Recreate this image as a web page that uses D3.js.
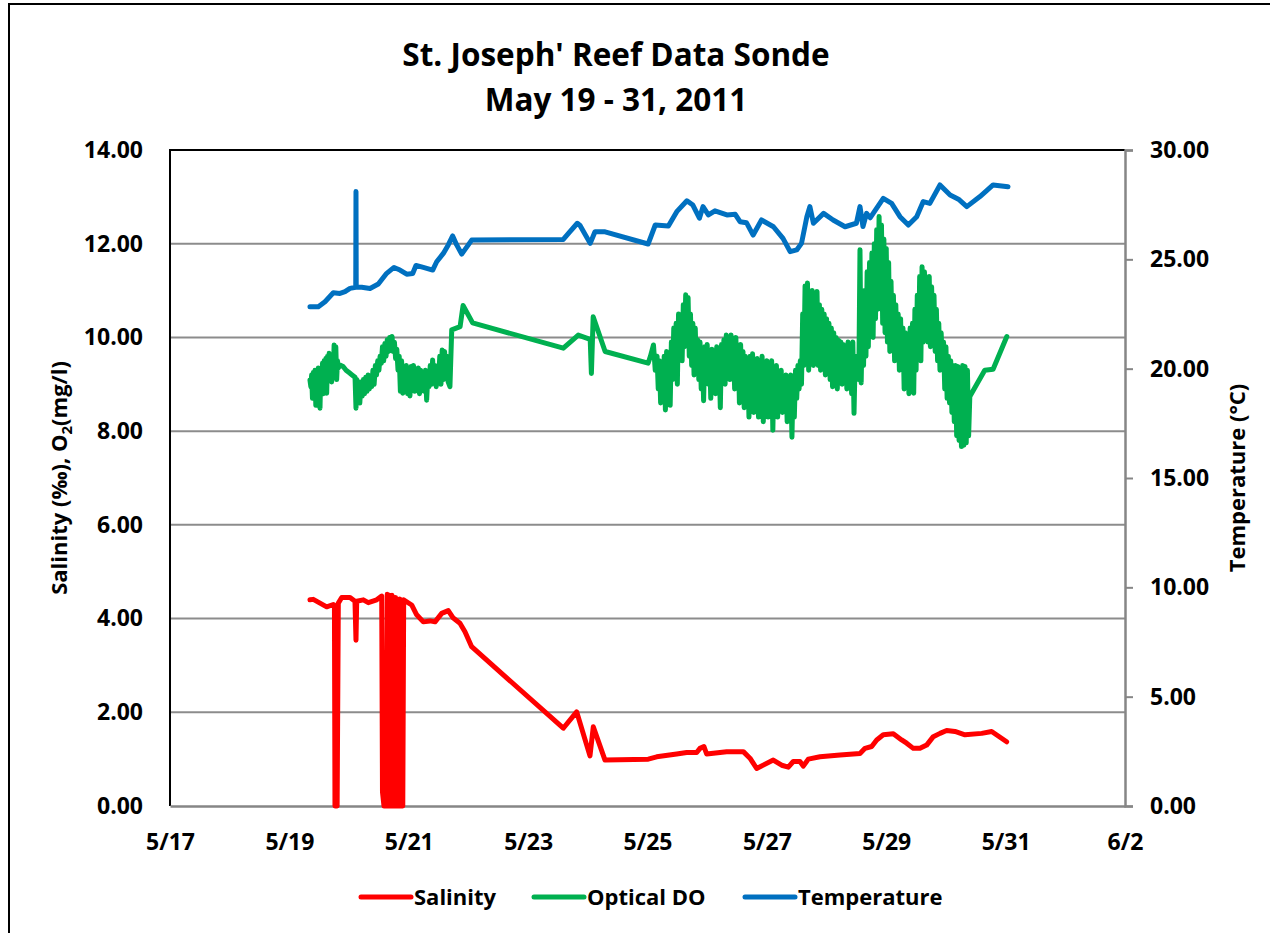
<!DOCTYPE html>
<html>
<head>
<meta charset="utf-8">
<script src="https://cdn.jsdelivr.net/npm/d3@7"></script>
<style>
  body { margin: 0; background: #fff; }
  text { font-family: "Open Sans", sans-serif; font-weight: bold; fill: #000; }
</style>
</head>
<body>
<script>
// ---- data (day of May 2011, value) ----
const salinity = [
  [19.345, 4.40], [19.401, 4.41], [19.513, 4.33], [19.625, 4.25], [19.736, 4.30], [19.755, 4.28],
  [19.764, 0], [19.80, 0], [19.82, 4.33], [19.877, 4.45], [20.016, 4.45], [20.099, 4.37],
  [20.116, 3.54], [20.128, 4.37], [20.239, 4.40], [20.322, 4.34], [20.463, 4.40], [20.547, 4.48],
  [20.56, 0.3], [20.585, 0], [20.62, 0], [20.64, 4.52], [20.66, 0], [20.68, 4.50], [20.70, 0],
  [20.72, 4.50], [20.74, 0], [20.76, 0], [20.78, 4.45], [20.80, 0], [20.83, 0], [20.85, 4.42],
  [20.87, 0], [20.90, 0], [20.915, 4.40], [20.94, 4.38], [21.049, 4.29], [21.133, 4.08],
  [21.244, 3.93], [21.356, 3.95], [21.440, 3.93], [21.552, 4.11], [21.662, 4.17], [21.746, 4.01],
  [21.858, 3.90], [21.942, 3.72], [22.054, 3.40], [23.589, 1.66], [23.813, 2.01], [24.036, 1.07],
  [24.092, 1.69], [24.288, 0.98], [25.013, 1.00], [25.154, 1.05], [25.489, 1.11], [25.656, 1.14],
  [25.824, 1.14], [25.879, 1.23], [25.946, 1.27], [25.991, 1.11], [26.326, 1.16], [26.605, 1.16],
  [26.717, 1.02], [26.829, 0.80], [27.107, 0.98], [27.248, 0.87], [27.359, 0.83], [27.442, 0.95],
  [27.554, 0.95], [27.610, 0.85], [27.694, 1.00], [27.890, 1.05], [28.225, 1.09], [28.560, 1.12],
  [28.644, 1.23], [28.756, 1.27], [28.840, 1.41], [28.950, 1.52], [29.118, 1.54], [29.258, 1.41],
  [29.342, 1.34], [29.453, 1.23], [29.565, 1.23], [29.677, 1.30], [29.788, 1.48], [29.900, 1.55],
  [30.012, 1.61], [30.151, 1.59], [30.319, 1.52], [30.599, 1.55], [30.766, 1.59], [31.017, 1.37]
];

const opticalDO = [
  [19.345, 9.09], [19.36, 8.95], [19.373, 9.20], [19.387, 8.70], [19.401, 9.25], [19.415, 8.85],
  [19.429, 9.30], [19.443, 8.55], [19.457, 9.25], [19.471, 9.00], [19.485, 9.35], [19.50, 8.90],
  [19.513, 8.49], [19.527, 9.30], [19.541, 9.00], [19.555, 9.45], [19.569, 8.80], [19.583, 9.50],
  [19.597, 9.10], [19.611, 9.55], [19.625, 8.81], [19.64, 9.60], [19.652, 9.20], [19.666, 9.66],
  [19.68, 9.30], [19.694, 9.50], [19.708, 9.05], [19.722, 9.60], [19.736, 9.30], [19.75, 9.84],
  [19.764, 9.35], [19.778, 9.80], [19.792, 9.10], [19.806, 9.50], [19.82, 9.35], [19.848, 9.41],
  [19.90, 9.38], [19.95, 9.30], [20.00, 9.25], [20.05, 9.20], [20.10, 9.15], [20.116, 8.49],
  [20.13, 9.10], [20.16, 9.00], [20.18, 8.60], [20.20, 9.05], [20.22, 8.75], [20.24, 9.10],
  [20.26, 8.80], [20.28, 9.15], [20.30, 8.85], [20.32, 9.20], [20.34, 8.90], [20.36, 9.10],
  [20.38, 8.95], [20.40, 9.30], [20.42, 9.00], [20.44, 9.40], [20.46, 9.20], [20.48, 9.50],
  [20.50, 9.30], [20.52, 9.60], [20.54, 9.45], [20.56, 9.80], [20.58, 9.50], [20.60, 9.87],
  [20.62, 9.60], [20.64, 9.95], [20.66, 9.70], [20.68, 10.00], [20.70, 9.75], [20.72, 10.02],
  [20.74, 9.70], [20.76, 9.90], [20.78, 9.55], [20.80, 9.75], [20.82, 9.30], [20.84, 9.60],
  [20.86, 8.85], [20.88, 9.50], [20.90, 8.81], [20.92, 9.35], [20.94, 9.00], [20.96, 9.40],
  [20.98, 8.80], [21.00, 9.30], [21.02, 8.75], [21.04, 9.38], [21.06, 8.90], [21.08, 9.40],
  [21.10, 8.85], [21.12, 9.30], [21.14, 8.95], [21.16, 9.35], [21.18, 8.80], [21.20, 9.30],
  [21.22, 8.90], [21.24, 9.25], [21.26, 8.85], [21.28, 9.30], [21.30, 8.66], [21.32, 9.20],
  [21.34, 8.95], [21.36, 9.40], [21.38, 9.00], [21.40, 9.52], [21.42, 9.05], [21.44, 9.40],
  [21.46, 8.95], [21.48, 9.30], [21.50, 9.10], [21.52, 9.60], [21.54, 9.00], [21.56, 9.73],
  [21.58, 9.10], [21.60, 9.70], [21.62, 9.20], [21.64, 9.60], [21.66, 9.05], [21.69, 8.95],
  [21.72, 10.16], [21.86, 10.23], [21.91, 10.68], [22.07, 10.31], [23.59, 9.77], [23.84, 10.05],
  [24.04, 9.96], [24.06, 9.23], [24.09, 10.44], [24.29, 9.70], [25.01, 9.45], [25.05, 9.60],
  [25.10, 9.84], [25.13, 9.30], [25.16, 9.60], [25.18, 8.90], [25.20, 9.50], [25.22, 8.60],
  [25.24, 9.40], [25.26, 8.80], [25.28, 9.60], [25.30, 8.45], [25.32, 9.70], [25.34, 8.90],
  [25.36, 9.50], [25.38, 8.55], [25.40, 9.90], [25.42, 9.10], [25.44, 10.20], [25.46, 9.30],
  [25.48, 10.30], [25.50, 9.00], [25.52, 10.50], [25.54, 9.70], [25.56, 10.40], [25.58, 9.50],
  [25.60, 10.70], [25.62, 9.80], [25.64, 10.91], [25.66, 9.90], [25.68, 10.85], [25.70, 9.60],
  [25.72, 10.50], [25.74, 9.40], [25.76, 10.30], [25.78, 9.20], [25.80, 10.20], [25.82, 9.30],
  [25.84, 9.95], [25.86, 9.10], [25.88, 9.90], [25.90, 8.90], [25.92, 9.70], [25.94, 8.65],
  [25.96, 9.80], [25.98, 9.20], [26.00, 9.85], [26.02, 9.00], [26.04, 9.70], [26.06, 8.70],
  [26.08, 9.75], [26.10, 9.10], [26.12, 9.60], [26.14, 8.80], [26.16, 9.80], [26.18, 9.00],
  [26.20, 9.50], [26.22, 8.50], [26.24, 9.85], [26.26, 9.20], [26.28, 9.95], [26.30, 9.00],
  [26.32, 10.05], [26.34, 9.30], [26.36, 9.95], [26.38, 9.10], [26.40, 10.05], [26.42, 9.20],
  [26.44, 9.90], [26.46, 8.90], [26.48, 10.00], [26.50, 9.15], [26.52, 9.80], [26.54, 8.60],
  [26.56, 9.85], [26.58, 8.90], [26.60, 9.70], [26.62, 8.50], [26.64, 9.60], [26.66, 8.80],
  [26.68, 9.40], [26.70, 8.30], [26.72, 9.60], [26.74, 8.70], [26.76, 9.65], [26.78, 8.40],
  [26.80, 9.50], [26.82, 8.60], [26.84, 9.55], [26.86, 8.30], [26.88, 9.40], [26.90, 8.50],
  [26.92, 9.60], [26.94, 8.20], [26.96, 9.30], [26.98, 8.60], [27.00, 9.50], [27.02, 8.30],
  [27.04, 9.40], [27.06, 8.60], [27.08, 9.50], [27.10, 8.02], [27.12, 9.30], [27.14, 8.50],
  [27.16, 9.40], [27.18, 8.30], [27.20, 9.20], [27.22, 8.60], [27.24, 9.30], [27.26, 8.40],
  [27.28, 9.10], [27.30, 8.60], [27.32, 9.20], [27.34, 8.20], [27.36, 9.00], [27.38, 8.50],
  [27.40, 9.20], [27.42, 7.87], [27.44, 9.10], [27.46, 8.30], [27.48, 9.30], [27.50, 8.70],
  [27.52, 9.40], [27.54, 8.90], [27.56, 9.50], [27.58, 9.00], [27.60, 10.50], [27.62, 9.40],
  [27.64, 11.10], [27.66, 9.50], [27.68, 11.16], [27.70, 9.30], [27.72, 10.90], [27.74, 9.50],
  [27.76, 11.00], [27.78, 9.40], [27.80, 10.90], [27.82, 9.60], [27.84, 10.98], [27.86, 9.40],
  [27.88, 10.70], [27.90, 9.30], [27.92, 10.60], [27.94, 9.50], [27.96, 10.50], [27.98, 9.20],
  [28.00, 10.40], [28.02, 9.40], [28.04, 10.30], [28.06, 9.10], [28.08, 10.20], [28.10, 8.95],
  [28.12, 10.10], [28.14, 9.20], [28.16, 10.00], [28.18, 8.90], [28.20, 9.94], [28.22, 9.30],
  [28.24, 9.90], [28.26, 9.00], [28.28, 9.85], [28.30, 9.20], [28.32, 9.80], [28.34, 8.90],
  [28.36, 9.90], [28.38, 9.10], [28.40, 9.80], [28.42, 8.80], [28.44, 9.90], [28.46, 8.38],
  [28.48, 9.60], [28.50, 9.30], [28.52, 9.50], [28.54, 9.10], [28.56, 11.87], [28.58, 9.03],
  [28.60, 10.50], [28.62, 9.40], [28.64, 11.00], [28.66, 9.60], [28.68, 11.40], [28.70, 9.80],
  [28.72, 11.60], [28.74, 10.20], [28.76, 11.80], [28.78, 10.00], [28.80, 12.00], [28.82, 10.40],
  [28.84, 12.30], [28.86, 10.60], [28.88, 12.58], [28.90, 11.00], [28.92, 12.40], [28.94, 10.30],
  [28.96, 12.10], [28.98, 10.10], [29.00, 11.90], [29.02, 9.90], [29.04, 11.60], [29.06, 9.70],
  [29.08, 11.20], [29.10, 9.80], [29.12, 10.90], [29.14, 9.50], [29.16, 10.70], [29.18, 9.60],
  [29.20, 10.50], [29.22, 9.30], [29.24, 10.40], [29.26, 9.40], [29.28, 10.20], [29.30, 8.90],
  [29.32, 10.10], [29.34, 9.10], [29.36, 10.00], [29.38, 8.80], [29.40, 10.20], [29.42, 9.20],
  [29.44, 10.30], [29.46, 8.81], [29.48, 10.60], [29.50, 9.30], [29.52, 10.90], [29.54, 9.60],
  [29.56, 11.30], [29.58, 9.50], [29.60, 11.51], [29.62, 9.90], [29.64, 11.40], [29.66, 10.00],
  [29.68, 11.10], [29.70, 9.90], [29.72, 11.30], [29.74, 9.80], [29.76, 11.08], [29.78, 10.00],
  [29.80, 10.90], [29.82, 9.70], [29.84, 10.60], [29.86, 9.50], [29.88, 10.30], [29.90, 9.30],
  [29.92, 10.10], [29.94, 9.40], [29.96, 9.90], [29.98, 8.90], [30.00, 9.80], [30.02, 8.70],
  [30.04, 9.60], [30.06, 8.60], [30.08, 9.50], [30.10, 8.40], [30.12, 9.40], [30.14, 8.20],
  [30.16, 9.40], [30.18, 7.90], [30.20, 9.38], [30.22, 7.80], [30.24, 9.30], [30.26, 7.67],
  [30.28, 9.40], [30.30, 7.70], [30.32, 9.38], [30.34, 7.75], [30.36, 9.30], [30.38, 7.90],
  [30.40, 8.74], [30.65, 9.30], [30.79, 9.32], [31.02, 10.02]
];

const temperature = [
  [19.345, 22.83], [19.485, 22.83], [19.597, 23.06], [19.736, 23.47], [19.848, 23.44], [19.932, 23.52],
  [20.016, 23.67], [20.112, 23.72], [20.116, 28.10], [20.12, 23.72], [20.212, 23.72], [20.351, 23.67],
  [20.490, 23.87], [20.630, 24.36], [20.753, 24.63], [20.853, 24.51], [20.966, 24.32], [21.066, 24.35],
  [21.121, 24.72], [21.244, 24.63], [21.401, 24.51], [21.468, 24.89], [21.579, 25.27], [21.662, 25.66],
  [21.736, 26.07], [21.803, 25.66], [21.887, 25.24], [22.054, 25.88], [23.589, 25.91], [23.701, 26.27],
  [23.824, 26.65], [23.87, 26.55], [24.04, 25.73], [24.12, 26.26], [24.29, 26.26], [25.01, 25.70],
  [25.13, 26.57], [25.35, 26.52], [25.49, 27.18], [25.66, 27.68], [25.76, 27.48], [25.87, 26.88],
  [25.93, 27.41], [26.02, 27.03], [26.13, 27.22], [26.33, 27.03], [26.47, 27.06], [26.55, 26.72],
  [26.66, 26.67], [26.77, 26.11], [26.91, 26.80], [27.11, 26.49], [27.27, 25.96], [27.39, 25.35],
  [27.50, 25.43], [27.58, 25.73], [27.67, 26.95], [27.72, 27.41], [27.78, 26.65], [27.95, 27.10],
  [28.11, 26.80], [28.31, 26.49], [28.50, 26.65], [28.56, 27.41], [28.61, 26.50], [28.67, 27.10],
  [28.73, 26.90], [28.95, 27.79], [29.09, 27.56], [29.23, 26.95], [29.37, 26.57], [29.51, 26.95],
  [29.62, 27.64], [29.73, 27.56], [29.90, 28.40], [30.07, 27.94], [30.21, 27.75], [30.35, 27.41],
  [30.57, 27.87], [30.79, 28.40], [31.04, 28.32]
];

const xTickDays = [[5, 17], [5, 19], [5, 21], [5, 23], [5, 25], [5, 27], [5, 29], [5, 31], [6, 2]];
const leftTicks = [0, 2, 4, 6, 8, 10, 12, 14];
const rightTicks = [0, 5, 10, 15, 20, 25, 30];

const seriesInfo = [
  { name: 'Salinity', color: '#FF0000' },
  { name: 'Optical DO', color: '#00B050' },
  { name: 'Temperature', color: '#0070C0' }
];

// ---- layout ----
const W = 1270, H = 933;
const plot = { left: 170, top: 150, right: 1125, bottom: 806 };

const may1 = new Date(2011, 4, 1).getTime();
const toDate = d => new Date(may1 + (d - 1) * 86400000);

const svg = d3.select('body').append('svg')
    .attr('width', W)
    .attr('height', H);

// outer chart border
svg.append('rect')
    .attr('x', 9).attr('y', 4)
    .attr('width', 1300).attr('height', 1000)
    .attr('fill', '#fff')
    .attr('stroke', '#000')
    .attr('stroke-width', 2);

const x = d3.scaleTime()
    .domain([new Date(2011, 4, 17), new Date(2011, 5, 2)])
    .range([plot.left, plot.right]);
const yL = d3.scaleLinear().domain([0, 14]).range([plot.bottom, plot.top]);
const yR = d3.scaleLinear().domain([0, 30]).range([plot.bottom, plot.top]);

// gridlines
svg.append('g')
    .selectAll('line')
    .data(leftTicks.filter(t => t > 0 && t < 14))
    .join('line')
    .attr('x1', plot.left).attr('x2', plot.right)
    .attr('y1', d => yL(d)).attr('y2', d => yL(d))
    .attr('stroke', '#8c8c8c')
    .attr('stroke-width', 2);

// plot border top / left (black)
svg.append('path')
    .attr('d', `M${plot.left},${plot.bottom}V${plot.top}H${plot.right}`)
    .attr('fill', 'none')
    .attr('stroke', '#000')
    .attr('stroke-width', 2);

// left axis labels
const leftAxis = d3.axisLeft(yL)
    .tickValues(leftTicks)
    .tickFormat(d3.format('.2f'))
    .tickSize(0)
    .tickPadding(27);
const gL = svg.append('g').attr('transform', `translate(${plot.left},0)`).call(leftAxis);
gL.select('.domain').remove();
gL.selectAll('text').style('font-size', '23px').attr('fill', '#000');

// right axis
const rightAxis = d3.axisRight(yR)
    .tickValues(rightTicks)
    .tickFormat(d3.format('.2f'))
    .tickSize(8)
    .tickPadding(17);
const gR = svg.append('g').attr('transform', `translate(${plot.right},0)`).call(rightAxis);
gR.select('.domain').attr('stroke', '#868686').attr('stroke-width', 2.5);
gR.selectAll('line').attr('stroke', '#868686').attr('stroke-width', 2);
gR.selectAll('text').style('font-size', '23px').attr('fill', '#000');

// bottom axis
const bottomAxis = d3.axisBottom(x)
    .tickValues(xTickDays.map(d => new Date(2011, d[0] - 1, d[1])))
    .tickFormat(d3.timeFormat('%-m/%-d'))
    .tickSize(0)
    .tickPadding(28);
const gB = svg.append('g').attr('transform', `translate(0,${plot.bottom})`).call(bottomAxis);
gB.select('.domain').attr('stroke', '#868686').attr('stroke-width', 2.5);
gB.selectAll('text').style('font-size', '23px').attr('fill', '#000');

// series lines
const lineL = d3.line().x(d => x(toDate(d[0]))).y(d => yL(d[1]));
const lineR = d3.line().x(d => x(toDate(d[0]))).y(d => yR(d[1]));

const drawSeries = (data, gen, color) => {
  svg.append('path')
      .datum(data)
      .attr('d', gen)
      .attr('fill', 'none')
      .attr('stroke', color)
      .attr('stroke-width', 5)
      .attr('stroke-linejoin', 'round')
      .attr('stroke-linecap', 'round');
};
drawSeries(salinity, lineL, seriesInfo[0].color);
drawSeries(opticalDO, lineL, seriesInfo[1].color);
drawSeries(temperature, lineR, seriesInfo[2].color);

// title
const title = svg.append('text')
    .attr('text-anchor', 'middle')
    .style('font-size', '31.5px');
title.append('tspan').attr('x', 616).attr('y', 66).text("St. Joseph' Reef Data Sonde");
title.append('tspan').attr('x', 616).attr('y', 111).text('May 19 - 31, 2011');

// left axis title
const yTitle = svg.append('text')
    .attr('transform', `translate(67,478) rotate(-90)`)
    .attr('text-anchor', 'middle')
    .style('font-size', '22px');
yTitle.append('tspan').text('Salinity (‰), O');
yTitle.append('tspan').attr('dy', 5).style('font-size', '15px').text('2');
yTitle.append('tspan').attr('dy', -5).text('(mg/l)');

// right axis title
svg.append('text')
    .attr('transform', `translate(1245,478) rotate(-90)`)
    .attr('text-anchor', 'middle')
    .style('font-size', '22px')
    .text('Temperature (°C)');

// legend
const legendX = [359, 532, 743];
const legend = svg.append('g')
    .selectAll('g')
    .data(seriesInfo)
    .join('g')
    .attr('transform', (d, i) => `translate(${legendX[i]},897)`);
legend.append('line')
    .attr('x1', 2).attr('x2', 52)
    .attr('stroke', d => d.color)
    .attr('stroke-width', 5)
    .attr('stroke-linecap', 'round');
legend.append('text')
    .attr('x', 55).attr('y', 8)
    .style('font-size', '22px')
    .text(d => d.name);
</script>
</body>
</html>
